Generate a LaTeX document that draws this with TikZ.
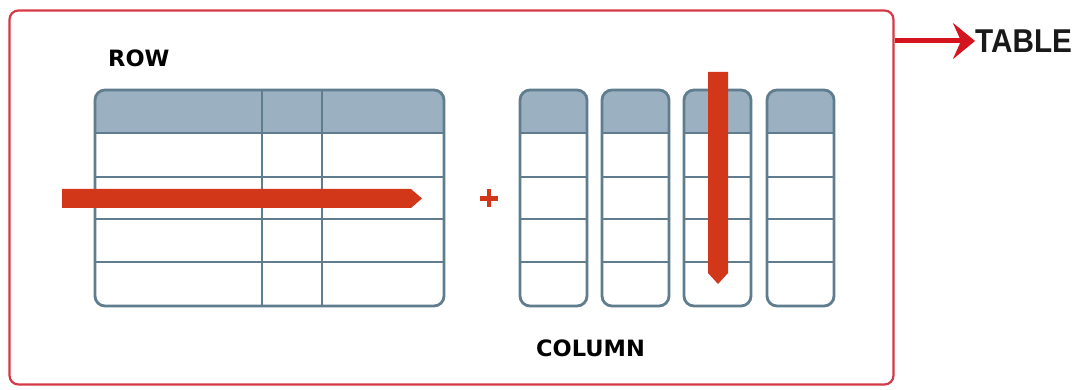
\documentclass[tikz,border=0pt]{standalone}
\usepackage{fontspec}
\setmainfont{DejaVu Sans}
\newfontfamily\lblfont{DejaVu Sans}
\newfontfamily\tablefont[FakeStretch=0.9]{Liberation Sans}
\usetikzlibrary{arrows.meta}
\definecolor{framered}{RGB}{214,58,70}
\definecolor{hdrfill}{RGB}{155,176,192}
\definecolor{gridline}{RGB}{95,125,143}
\definecolor{barred}{RGB}{210,55,25}
\definecolor{linkred}{RGB}{212,20,30}
\tikzset{
  frameline/.style={draw=framered, line width=2.2pt, rounded corners=9pt},
  gridln/.style={draw=gridline, line width=2.8pt},
  hdr/.style={fill=hdrfill},
  bar/.style={fill=barred},
  lbl/.style={font=\lblfont\bfseries\fontsize{22.5}{22.5}\selectfont, text=black, inner sep=0pt, anchor=west},
  tbllbl/.style={font=\tablefont\bfseries\fontsize{33}{33}\selectfont, text=black!90, inner sep=0pt, anchor=west},
  linkarrow/.style={draw=linkred, line width=5pt, -{Stealth[length=22pt,width=36pt,inset=8pt]}},
}
\begin{document}
\begin{tikzpicture}[x=1pt,y=-1pt]
\useasboundingbox (0,0) rectangle (1079,390);
\fill[white] (0,0) rectangle (1079,390);

% outer frame
\node[frameline, minimum width=884pt, minimum height=374pt, inner sep=0pt] (frame) at (451.5,197.5) {};

% labels
\node[lbl] (row) at (108,58) {ROW};
\node[lbl] (col) at (536,348) {COLUMN};
\node[tbllbl] (tbl) at (975,41) {TABLE};
\draw[linkarrow] (frame.east |- tbl.west) -- (tbl.west);

% row table
\begin{scope}
\clip[rounded corners=10pt] (95,90) rectangle (444,306);
\fill[hdr] (95,90) rectangle (444,133);
\end{scope}
\foreach \yy in {133,177,219,262} {\draw[gridln] (95,\yy) -- (444,\yy);}
\foreach \xx in {262,322} {\draw[gridln] (\xx,90) -- (\xx,306);}
\draw[gridln, rounded corners=10pt] (95,90) rectangle (444,306);

% row arrow
\fill[bar] (62,189) -- (411,189) -- (422,198.5) -- (411,208) -- (62,208) -- cycle;

% plus
\draw[barred, line width=4.5pt] (480,198.5) -- (498,198.5);
\draw[barred, line width=4.5pt] (489,189.5) -- (489,207.5);

% columns
\foreach \xx in {520,602,684,767} {
  \begin{scope}
  \clip[rounded corners=10pt] (\xx,90) rectangle ({\xx+67},306);
  \fill[hdr] (\xx,90) rectangle ({\xx+67},133);
  \end{scope}
  \foreach \yy in {133,177,219,262} {\draw[gridln] (\xx,\yy) -- ({\xx+67},\yy);}
  \draw[gridln, rounded corners=10pt] (\xx,90) rectangle ({\xx+67},306);
}

% column arrow
\fill[bar] (708,72) -- (728,72) -- (728,273) -- (718,284) -- (708,273) -- cycle;
\end{tikzpicture}
\end{document}
